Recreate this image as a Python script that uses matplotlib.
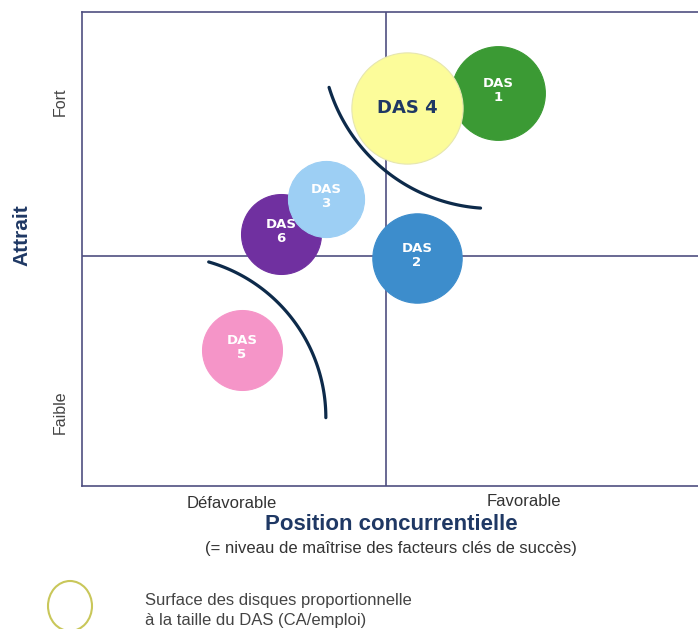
import matplotlib.pyplot as plt
import numpy as np

# DAS (domaines d'activité stratégiques)
das_labels = ["DAS\n1", "DAS\n2", "DAS\n3", "DAS 4", "DAS\n5", "DAS\n6"]
position = [68.4, 55.1, 40.1, 53.5, 26.3, 32.7]   # position concurrentielle
attrait = [85.4, 49.6, 62.4, 82.2, 29.6, 54.8]    # attrait
taille = [2.2, 2.0, 1.45, 3.1, 1.6, 1.6]          # taille du DAS (CA/emploi)
couleurs = ["#3b9a34", "#3d8dcc", "#9dcff4", "#fcfc9a", "#f595c8", "#7030a0"]
couleurs_texte = ["white", "white", "white", "#1f3864", "white", "white"]
ordre = [0, 3, 1, 5, 2, 4]  # ordre de dessin (superpositions)

# frontieres (arcs) : centre x, centre y, rayon x, rayon y, angle debut, angle fin
arcs = [
    (67.5, 97.5, 28.1, 37.2, 197, 266),
    (13.5, 14.85, 26.6, 35.2, 0, 74),
]

W, H = 698, 629
fig = plt.figure(figsize=(W / 100, H / 100), dpi=100)
ax = fig.add_axes([82 / W, (H - 486) / H, 616 / W, 474 / H])
ax.set_xlim(0, 101.3)
ax.set_ylim(0, 103)
ax.set_xticks([])
ax.set_yticks([])
grid_col = "#4f4f80"
for side in ["left", "top", "bottom"]:
    ax.spines[side].set_color(grid_col)
    ax.spines[side].set_linewidth(1.2)
ax.spines["right"].set_visible(False)
ax.axvline(50, color=grid_col, lw=1.2, zorder=1)
ax.axhline(50, color=grid_col, lw=1.2, zorder=1)

for cx, cy, rx, ry, t1, t2 in arcs:
    t = np.radians(np.linspace(t1, t2, 100))
    ax.plot(cx + rx * np.cos(t), cy + ry * np.sin(t), color="#0d2a4a", lw=2.3,
            solid_capstyle="round", zorder=2)

for z, i in enumerate(ordre):
    ax.scatter(position[i], attrait[i], s=taille[i] * 2070, color=couleurs[i],
               edgecolors="#e6e6b0" if i == 3 else couleurs[i], linewidths=0.8,
               zorder=3 + z)
    if i == 3:
        ax.text(position[i], attrait[i], das_labels[i], ha="center", va="center",
                fontsize=13, fontweight="bold", color=couleurs_texte[i], zorder=20)
    else:
        ax.text(position[i], attrait[i] + 0.5, das_labels[i], ha="center", va="center",
                fontsize=9.5, fontweight="bold", color=couleurs_texte[i],
                linespacing=1.05, zorder=20)

font = "Liberation Sans"
fig.text(60 / W, 1 - 102 / H, "Fort", rotation=90, ha="center", va="center",
         fontsize=11.5, color="#444444", family=font)
fig.text(60 / W, 1 - 412 / H, "Faible", rotation=90, ha="center", va="center",
         fontsize=11.5, color="#444444", family=font)
fig.text(22 / W, 1 - 235 / H, "Attrait", rotation=90, ha="center", va="center",
         fontsize=15, fontweight="bold", color="#1f3864", family=font)
fig.text(232 / W, 1 - 503 / H, "Défavorable", ha="center", va="center",
         fontsize=12, color="#333333", family=font)
fig.text(524 / W, 1 - 501 / H, "Favorable", ha="center", va="center",
         fontsize=12, color="#333333", family=font)
fig.text(391 / W, 1 - 524 / H, "Position concurrentielle", ha="center", va="center",
         fontsize=16, fontweight="bold", color="#1f3864", family=font)
fig.text(391 / W, 1 - 549 / H, "(= niveau de maîtrise des facteurs clés de succès)",
         ha="center", va="center", fontsize=12, color="#333333", family=font)

# legende
leg = fig.add_axes([0, 0, 1, 1], facecolor="none")
leg.set_xlim(0, W)
leg.set_ylim(H, 0)
leg.axis("off")
leg.add_patch(plt.matplotlib.patches.Ellipse((70, 606), 44, 50, fill=False,
                                             edgecolor="#c9c75a", lw=1.5))
fig.text(145 / W, 1 - 601 / H, "Surface des disques proportionnelle",
         ha="left", va="center", fontsize=12, color="#444444", family=font)
fig.text(145 / W, 1 - 620 / H, "à la taille du DAS (CA/emploi)",
         ha="left", va="center", fontsize=12, color="#444444", family=font)

fig.savefig("out.png", dpi=100)
